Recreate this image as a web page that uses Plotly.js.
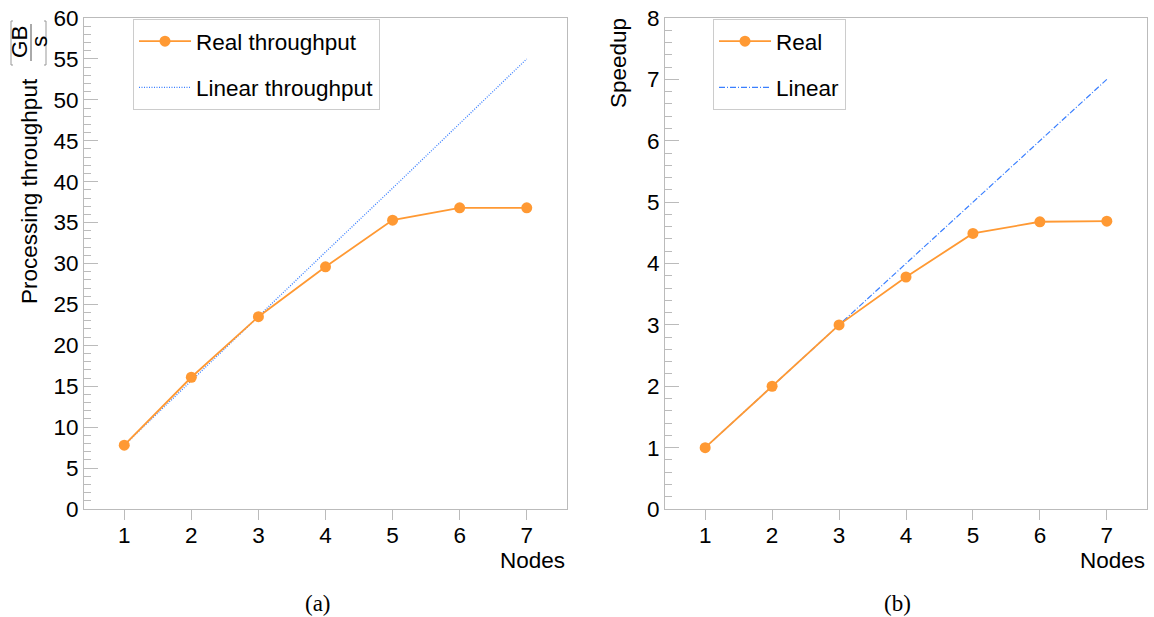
<!DOCTYPE html>
<html><head><meta charset="utf-8">
<script src="https://cdn.plot.ly/plotly-3.0.1.min.js"></script>
<style>html,body{margin:0;padding:0;background:#fff}#chart{width:1154px;height:617px}</style>
</head><body><div id="chart"></div>
<script>
// ---- data ----
const nodes = [1, 2, 3, 4, 5, 6, 7];
const nodeTicks = ['1', '2', '3', '4', '5', '6', '7'];
const realThroughput = [7.8, 16.1, 23.5, 29.6, 35.3, 36.8, 36.8];
const linearThroughput = [7.8, 15.7, 23.5, 31.4, 39.2, 47.1, 55.0];
const realSpeedup = [1.0, 2.0, 3.0, 3.78, 4.49, 4.68, 4.69];
const linearSpeedup = [1, 2, 3, 4, 5, 6, 7];

const W = 1154, H = 617;
const px = x => x / W, py = y => 1 - y / H;
const ORANGE = '#FF9933', BLUE = '#3A7FFF', GRAY = '#BBBBBB';
const FONT = 'Liberation Sans, Arial, sans-serif';
const FS = 22.5;

const traces = [
  {x: nodes, y: linearThroughput, xaxis: 'x', yaxis: 'y', mode: 'lines', name: 'Linear throughput',
   line: {color: BLUE, width: 1.3, dash: '1px,1.5px'}, legend: 'legend', legendrank: 2, legendgroup: 'a2'},
  {x: nodes, y: realThroughput, xaxis: 'x', yaxis: 'y', mode: 'lines+markers', name: 'Real throughput',
   line: {color: ORANGE, width: 1.8}, marker: {color: ORANGE, size: 11}, legend: 'legend', legendrank: 1, legendgroup: 'a1'},
  {x: nodes, y: linearSpeedup, xaxis: 'x2', yaxis: 'y2', mode: 'lines', name: 'Linear',
   line: {color: BLUE, width: 1.2, dash: '6px,2px,1px,2px'}, legend: 'legend2', legendrank: 2, legendgroup: 'b2'},
  {x: nodes, y: realSpeedup, xaxis: 'x2', yaxis: 'y2', mode: 'lines+markers', name: 'Real',
   line: {color: ORANGE, width: 1.8}, marker: {color: ORANGE, size: 11}, legend: 'legend2', legendrank: 1, legendgroup: 'b1'}
];

function xax(d0, d1, anchor) {
  return {domain: [px(d0), px(d1)], range: [0.4, 7.6], tickvals: nodes, ticktext: nodeTicks,
    ticks: 'outside', ticklen: 10, tickcolor: GRAY, tickwidth: 1, showline: true, linecolor: GRAY,
    mirror: true, showgrid: false, zeroline: false, tickfont: {size: FS, family: FONT, color: '#000'},
    ticklabelstandoff: -4, anchor: anchor, fixedrange: true};
}
function yax(max, dtick, mdt, anchor) {
  return {domain: [py(509), py(18)], range: [0, max], tick0: 0, dtick: dtick,
    ticks: 'inside', ticklen: 14, tickcolor: GRAY, tickwidth: 1,
    minor: {dtick: mdt, tick0: 0, ticks: 'inside', ticklen: 7, tickcolor: GRAY, tickwidth: 1},
    showline: true, linecolor: GRAY, mirror: true, showgrid: false, zeroline: false,
    tickfont: {size: FS, family: FONT, color: '#000'}, anchor: anchor, fixedrange: true};
}

const legStyle = (x, y) => ({x: px(x), y: py(y), xanchor: 'left', yanchor: 'top', bgcolor: '#fff',
  bordercolor: '#CCCCCC', borderwidth: 1, font: {size: FS, family: FONT, color: '#000'},
  tracegroupgap: 14, itemwidth: 52, traceorder: 'grouped'});

const ann = (text, x, y, opts) => Object.assign({text: text, x: px(x), y: py(y), xref: 'paper', yref: 'paper',
  showarrow: false, xanchor: 'center', yanchor: 'middle', font: {size: FS, family: FONT, color: '#000'}}, opts || {});

const layout = {
  width: W, height: H, margin: {l: 0, r: 0, t: 0, b: 0}, paper_bgcolor: '#fff', plot_bgcolor: '#fff',
  font: {family: FONT, size: FS, color: '#000'},
  xaxis: xax(84, 567, 'y'), yaxis: yax(60, 5, 1, 'x'),
  xaxis2: xax(665, 1147, 'y2'), yaxis2: yax(8, 1, 0.2, 'x2'),
  legend: legStyle(133, 19), legend2: legStyle(713, 19),
  annotations: [
    ann('Nodes', 567, 560, {xanchor: 'right'}),
    ann('Nodes', 1147, 560, {xanchor: 'right'}),
    ann('Processing throughput', 30, 191, {textangle: -90}),
    ann('GB', 20, 42, {textangle: -90}),
    ann('s', 40, 42, {textangle: -90}),
    ann('Speedup', 618, 63, {textangle: -90}),
    ann('(a)', 318, 603, {font: {size: 23, family: 'Liberation Serif, serif', color: '#000'}}),
    ann('(b)', 897, 603, {font: {size: 23, family: 'Liberation Serif, serif', color: '#000'}})
  ],
  shapes: [
    {type: 'line', xref: 'paper', yref: 'paper', x0: px(31), x1: px(31), y0: py(24), y1: py(61), line: {color: '#555', width: 1}},
    {type: 'path', xref: 'paper', yref: 'paper', path: `M${px(13)},${py(21)} L${px(11)},${py(21)} L${px(11)},${py(65)} L${px(13)},${py(65)}`, line: {color: '#999', width: 1}},
    {type: 'path', xref: 'paper', yref: 'paper', path: `M${px(44)},${py(21)} L${px(46)},${py(21)} L${px(46)},${py(65)} L${px(44)},${py(65)}`, line: {color: '#999', width: 1}}
  ]
};

Plotly.newPlot('chart', traces, layout, {displayModeBar: false, staticPlot: true});
</script></body></html>
